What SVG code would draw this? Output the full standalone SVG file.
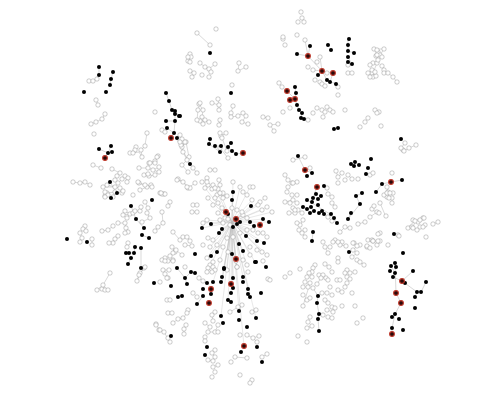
<svg xmlns="http://www.w3.org/2000/svg" xmlns:xlink="http://www.w3.org/1999/xlink" width="500" height="400" viewBox="0 0 500 400">
<style>
.e{fill:none;stroke:#aaa;stroke-width:0.45}
.s{fill:none;stroke:#bbb;stroke-width:0.35}
</style>
<defs>
<circle id="B" r="2" fill="#000"/>
<circle id="R" r="2.4" fill="#2a0a0a" stroke="#c0392b" stroke-width="1.1"/>
<circle id="H" r="2.2" fill="#fff" stroke="#999" stroke-width="0.5"/>
</defs>
<rect width="500" height="400" fill="#fff"/>
<g id="connectors">
<path class="e" d="M308 56L322 71M322 71L333 73M322 71L327 80M327 80L336 84M333 73L330 82M310 46L308 56M297 54L308 56M348 45L348 51M348 57L352 64M322 71L318 75M320 57L322 71M305 40L308 56M313 70L322 71M348 39L348 45M348 51L354 53M287 91L295 99M295 99L297 105L299 110L302 113L301 118M290 100L295 99M295 87L296 93L295 99M166 93L169 101L172 110L175 114L175 121L174 133L171 138M176 138L190 164M175 111L179 116M166 121L175 121M167 128L174 133M395 263L396 293L401 303L395 314L392 328L392 334M402 281L417 292M393 277L402 281M391 266L395 273M413 271L402 281M421 292L426 282M415 297L417 292M317 187L313 198M307 200L330 214M330 214L337 223M391 182L402 180M382 184L391 182M376 192L382 184M362 193L356 196L360 204M351 213L348 219L360 204M305 170L312 173M318 296L317 303L319 314L318 319L319 331M310 283L303 306M313 288L318 296M321 278L317 284M305 170L298 156M313 232L312 241M99 67L99 75M113 72L111 79L110 85M105 158L108 153L111 146M112 152L108 153M99 149L108 153M210 139L209 144L220 152M215 146L221 146M231 143L228 147L232 151L236 154L243 153M110 182L117 193M111 198L117 193M131 206L136 219L144 228M142 235L149 238M126 253L134 253L135 247M131 258L128 264M141 248L141 268M185 278L191 272L195 273M187 284L185 278M177 268L185 278M110 273L103 285M103 285L97 290M103 285L107 290M139 275L137 281M145 267L139 275M380 55L376 56M380 55L384 49M380 55L382 57M380 55L374 49M377 63L373 73M382 66L384 70M384 73L388 73L393 77L397 82M401 148L405 143M404 151L409 148L416 145M415 221L420 220L424 218M413 228L415 221M408 227L415 221M433 224L438 222M418 222L423 218M413 220L418 222M380 203L386 217M372 210L379 213M387 187L389 198M289 213L295 213M303 220L300 225M299 230L305 237M285 202L293 200M338 177L342 173M348 175L352 179M335 207L332 203M328 217L332 221M345 227L350 228M365 222L358 224M370 217L377 212M293 160L305 157M285 175L288 180M297 182L292 183M336 171L338 177M340 232L345 227M353 243L357 246L353 250M357 253L352 257M357 260L360 262L364 265M346 246L340 245M328 253L325 247M315 265L313 268M309 273L307 277M347 277L350 279M338 290L342 292M332 307L335 308M327 310L333 312M328 317L332 318M310 317L308 322M312 326L307 328M211 265L213 267L215 270M208 268L212 272M199 278L203 281M236 261L237 267M230 312L238 307L242 305M212 315L215 312M213 321L212 315M205 323L210 327M218 325L215 332M208 332L215 332M184 334L184 329L186 325M156 325L160 330M164 332L170 342M168 338L170 342M205 337L205 341M215 350L212 353L215 357M208 360L213 361M213 367L218 365M252 312L256 310M253 338L259 336M257 342L253 338M262 357L267 354M247 335L253 338M247 358L235 357M178 319L183 318M173 323L178 319M188 310L187 313L183 318M197 304L203 296M197 33L210 45M190 54L191 57L188 61M215 64L209 69L211 72M200 63L205 67L209 69M192 77L194 73L190 71M238 71L239 63M246 67L238 71M218 99L219 105L219 110M212 103L219 105M199 104L203 110L202 117M200 121L205 120L209 122M203 124L205 120M220 120L219 125M226 133L221 136M231 113L233 106M231 117L238 116L243 113M246 116L242 122L248 124M263 117L268 118M278 124L270 125L274 131M183 142L186 142L182 147M189 157L186 142M220 148L228 158M89 81L93 81L97 79M96 100L98 105M105 114L102 119L96 122L91 124M136 147L135 150L130 153L133 153M141 150L142 157M145 146L141 150M158 156L155 161L149 163M139 168L148 168L153 170M159 167L153 170M155 175L149 176L144 175M93 165L101 168M112 169L120 173L117 176M125 176L128 178M115 180L118 183L122 179M107 185L115 187M73 182L80 183L85 182L90 185M103 187L115 187L120 188M115 192L107 193L105 196M113 197L115 192M122 193L120 188M139 183L147 187L151 185M140 190L147 187M160 193L164 194M178 179L183 182L188 188L195 183M188 172L182 165L187 160L183 152L181 145L185 142L182 139L180 135M198 110L197 120M200 103L198 110M105 192L108 195L105 197M123 191L117 193M145 202L148 208M162 194L165 194M170 202L168 206M125 211L130 214L123 215M127 218L130 214M133 213L135 211L140 211L141 207M147 213L150 218M162 212L163 223L158 227L155 231M142 222L150 218M118 223L125 223L126 228L128 232L125 233M113 226L108 230L102 231M85 226L83 229L86 231M80 233L82 238L80 242M92 239L92 245M118 236L115 239L113 243L109 243M128 243L127 247M173 232L180 240M183 237L187 237L190 241M185 245L192 246M193 205L197 205M192 212L197 212M172 247L175 252L173 253L170 256L165 258L162 260M173 260L168 261M182 255L176 250M144 268L140 273L137 281M163 270L168 278M169 270L163 270M147 133L145 145M135 148L132 153L139 152L142 157M150 163L155 163L157 157M153 170L159 172M148 174L144 175M138 182L145 185L152 187M161 193L164 193M180 142L185 143L182 145M193 168L197 173M177 180L183 182L190 188L187 187M207 178L202 182M210 170L215 170M208 185L212 189M220 133L222 138L227 151M219 180L220 185L218 189L223 193M217 195L227 196M374 49L384 49"/>
<path class="s" d="M232 222L251 206M232 222L263 219M232 222L269 222M232 222L254 226M232 222L246 236M232 222L239 244M232 222L243 251M232 222L257 241M232 222L264 243M232 222L236 259M232 222L232 254M232 222L217 252M232 222L211 256M232 222L255 262M232 222L224 268M232 222L233 278M232 222L243 277M232 222L222 229M232 222L219 233M232 222L211 224M232 222L202 228M232 222L233 192M232 222L232 200M232 222L226 212M232 222L240 187M232 222L213 185M232 222L205 188M232 222L250 187M232 222L267 207M232 222L272 212M232 222L213 240M232 222L207 258M232 222L227 270M232 222L262 252M232 222L267 255M232 222L231 293M232 222L239 311M232 222L221 316M232 222L256 318M232 222L208 198M232 222L258 205M232 222L262 210M232 222L218 213M232 222L243 215M232 222L247 230M232 222L253 230M232 222L233 182M232 222L250 255M232 222L247 265M232 222L237 267M232 222L228 252M232 222L210 247M232 222L203 223M232 222L207 220M232 222L222 282M232 222L233 288M232 222L248 289M232 222L213 282M232 222L224 269M232 222L222 277M232 222L228 300M232 222L244 346M232 222L207 272M232 222L215 198M232 222L220 193M232 222L252 200M232 222L265 198"/>
</g>
<g id="nodes-hollow">
<use href="#H" x="301" y="12"/><use href="#H" x="302" y="18"/><use href="#H" x="298" y="22"/><use href="#H" x="304" y="22"/>
<use href="#H" x="197" y="33"/><use href="#H" x="216" y="29"/><use href="#H" x="210" y="45"/><use href="#H" x="190" y="54"/><use href="#H" x="188" y="61"/><use href="#H" x="191" y="57"/><use href="#H" x="215" y="64"/><use href="#H" x="200" y="63"/><use href="#H" x="205" y="67"/><use href="#H" x="209" y="69"/><use href="#H" x="211" y="72"/><use href="#H" x="202" y="75"/><use href="#H" x="209" y="77"/><use href="#H" x="192" y="77"/><use href="#H" x="190" y="71"/><use href="#H" x="194" y="73"/><use href="#H" x="239" y="63"/><use href="#H" x="238" y="71"/><use href="#H" x="246" y="67"/><use href="#H" x="232" y="85"/><use href="#H" x="283" y="39"/><use href="#H" x="279" y="83"/><use href="#H" x="282" y="87"/><use href="#H" x="218" y="99"/><use href="#H" x="212" y="103"/><use href="#H" x="219" y="105"/><use href="#H" x="219" y="110"/><use href="#H" x="199" y="104"/><use href="#H" x="203" y="110"/><use href="#H" x="202" y="117"/><use href="#H" x="200" y="121"/><use href="#H" x="205" y="120"/><use href="#H" x="209" y="122"/><use href="#H" x="203" y="124"/><use href="#H" x="220" y="120"/><use href="#H" x="219" y="125"/><use href="#H" x="226" y="133"/><use href="#H" x="221" y="136"/><use href="#H" x="231" y="113"/><use href="#H" x="233" y="106"/><use href="#H" x="231" y="117"/><use href="#H" x="238" y="116"/><use href="#H" x="243" y="113"/><use href="#H" x="246" y="116"/><use href="#H" x="242" y="122"/><use href="#H" x="248" y="124"/><use href="#H" x="263" y="117"/><use href="#H" x="268" y="118"/><use href="#H" x="278" y="124"/><use href="#H" x="270" y="125"/><use href="#H" x="274" y="131"/><use href="#H" x="183" y="142"/><use href="#H" x="186" y="142"/><use href="#H" x="182" y="147"/><use href="#H" x="189" y="157"/><use href="#H" x="220" y="148"/><use href="#H" x="228" y="158"/>
<use href="#H" x="89" y="81"/><use href="#H" x="93" y="81"/><use href="#H" x="97" y="79"/><use href="#H" x="96" y="100"/><use href="#H" x="98" y="105"/><use href="#H" x="105" y="114"/><use href="#H" x="102" y="119"/><use href="#H" x="96" y="122"/><use href="#H" x="91" y="124"/><use href="#H" x="94" y="134"/><use href="#H" x="155" y="112"/><use href="#H" x="147" y="133"/><use href="#H" x="162" y="130"/><use href="#H" x="165" y="132"/><use href="#H" x="136" y="147"/><use href="#H" x="135" y="150"/><use href="#H" x="130" y="153"/><use href="#H" x="133" y="153"/><use href="#H" x="141" y="150"/><use href="#H" x="142" y="157"/><use href="#H" x="145" y="146"/><use href="#H" x="158" y="156"/><use href="#H" x="155" y="161"/><use href="#H" x="149" y="163"/><use href="#H" x="139" y="168"/><use href="#H" x="148" y="168"/><use href="#H" x="153" y="170"/><use href="#H" x="159" y="167"/><use href="#H" x="155" y="175"/><use href="#H" x="144" y="175"/><use href="#H" x="149" y="176"/><use href="#H" x="93" y="165"/><use href="#H" x="101" y="168"/><use href="#H" x="112" y="169"/><use href="#H" x="120" y="173"/><use href="#H" x="117" y="176"/><use href="#H" x="125" y="176"/><use href="#H" x="128" y="178"/><use href="#H" x="115" y="180"/><use href="#H" x="118" y="183"/><use href="#H" x="122" y="179"/><use href="#H" x="107" y="185"/><use href="#H" x="127" y="182"/><use href="#H" x="73" y="182"/><use href="#H" x="80" y="183"/><use href="#H" x="85" y="182"/><use href="#H" x="90" y="185"/><use href="#H" x="103" y="187"/><use href="#H" x="115" y="187"/><use href="#H" x="120" y="188"/><use href="#H" x="115" y="192"/><use href="#H" x="107" y="193"/><use href="#H" x="105" y="196"/><use href="#H" x="113" y="197"/><use href="#H" x="122" y="193"/><use href="#H" x="139" y="183"/><use href="#H" x="147" y="187"/><use href="#H" x="151" y="185"/><use href="#H" x="140" y="190"/><use href="#H" x="160" y="193"/><use href="#H" x="164" y="194"/><use href="#H" x="178" y="179"/><use href="#H" x="183" y="182"/><use href="#H" x="188" y="188"/><use href="#H" x="195" y="183"/><use href="#H" x="188" y="172"/><use href="#H" x="182" y="165"/><use href="#H" x="187" y="160"/><use href="#H" x="183" y="152"/><use href="#H" x="181" y="145"/><use href="#H" x="185" y="142"/><use href="#H" x="182" y="139"/><use href="#H" x="180" y="135"/><use href="#H" x="198" y="110"/><use href="#H" x="197" y="120"/><use href="#H" x="200" y="103"/><use href="#H" x="188" y="57"/><use href="#H" x="190" y="62"/>
<use href="#H" x="105" y="192"/><use href="#H" x="108" y="195"/><use href="#H" x="105" y="197"/><use href="#H" x="123" y="191"/><use href="#H" x="145" y="202"/><use href="#H" x="148" y="208"/><use href="#H" x="162" y="194"/><use href="#H" x="165" y="194"/><use href="#H" x="170" y="202"/><use href="#H" x="168" y="206"/><use href="#H" x="125" y="211"/><use href="#H" x="130" y="214"/><use href="#H" x="123" y="215"/><use href="#H" x="127" y="218"/><use href="#H" x="133" y="213"/><use href="#H" x="135" y="211"/><use href="#H" x="140" y="211"/><use href="#H" x="141" y="207"/><use href="#H" x="147" y="213"/><use href="#H" x="150" y="218"/><use href="#H" x="162" y="212"/><use href="#H" x="163" y="223"/><use href="#H" x="158" y="227"/><use href="#H" x="155" y="231"/><use href="#H" x="142" y="222"/><use href="#H" x="118" y="223"/><use href="#H" x="125" y="223"/><use href="#H" x="126" y="228"/><use href="#H" x="128" y="232"/><use href="#H" x="125" y="233"/><use href="#H" x="113" y="226"/><use href="#H" x="108" y="230"/><use href="#H" x="102" y="231"/><use href="#H" x="85" y="226"/><use href="#H" x="83" y="229"/><use href="#H" x="86" y="231"/><use href="#H" x="80" y="233"/><use href="#H" x="82" y="238"/><use href="#H" x="80" y="242"/><use href="#H" x="92" y="239"/><use href="#H" x="92" y="245"/><use href="#H" x="118" y="236"/><use href="#H" x="115" y="239"/><use href="#H" x="113" y="243"/><use href="#H" x="109" y="243"/><use href="#H" x="128" y="243"/><use href="#H" x="127" y="247"/><use href="#H" x="173" y="232"/><use href="#H" x="180" y="240"/><use href="#H" x="183" y="237"/><use href="#H" x="187" y="237"/><use href="#H" x="190" y="241"/><use href="#H" x="185" y="245"/><use href="#H" x="192" y="246"/><use href="#H" x="193" y="205"/><use href="#H" x="197" y="205"/><use href="#H" x="192" y="212"/><use href="#H" x="197" y="212"/><use href="#H" x="172" y="247"/><use href="#H" x="175" y="252"/><use href="#H" x="173" y="253"/><use href="#H" x="170" y="256"/><use href="#H" x="165" y="258"/><use href="#H" x="162" y="260"/><use href="#H" x="173" y="260"/><use href="#H" x="168" y="261"/><use href="#H" x="182" y="255"/><use href="#H" x="176" y="250"/><use href="#H" x="144" y="268"/><use href="#H" x="140" y="273"/><use href="#H" x="137" y="281"/><use href="#H" x="163" y="270"/><use href="#H" x="168" y="278"/><use href="#H" x="169" y="270"/><use href="#H" x="110" y="273"/><use href="#H" x="102" y="289"/><use href="#H" x="97" y="290"/><use href="#H" x="105" y="290"/><use href="#H" x="108" y="290"/><use href="#H" x="103" y="285"/><use href="#H" x="160" y="282"/><use href="#H" x="167" y="300"/><use href="#H" x="185" y="267"/><use href="#H" x="193" y="293"/><use href="#H" x="197" y="297"/><use href="#H" x="145" y="267"/><use href="#H" x="139" y="275"/><use href="#H" x="156" y="324"/><use href="#H" x="159" y="330"/>
<use href="#H" x="150" y="163"/><use href="#H" x="155" y="163"/><use href="#H" x="157" y="157"/><use href="#H" x="159" y="172"/><use href="#H" x="148" y="174"/><use href="#H" x="138" y="182"/><use href="#H" x="145" y="185"/><use href="#H" x="152" y="187"/><use href="#H" x="133" y="195"/><use href="#H" x="161" y="193"/><use href="#H" x="180" y="142"/><use href="#H" x="193" y="168"/><use href="#H" x="197" y="173"/><use href="#H" x="177" y="180"/><use href="#H" x="190" y="188"/><use href="#H" x="187" y="187"/><use href="#H" x="207" y="178"/><use href="#H" x="202" y="182"/><use href="#H" x="210" y="170"/><use href="#H" x="215" y="170"/><use href="#H" x="208" y="185"/><use href="#H" x="212" y="189"/><use href="#H" x="220" y="133"/><use href="#H" x="222" y="138"/><use href="#H" x="227" y="151"/><use href="#H" x="219" y="180"/><use href="#H" x="220" y="185"/><use href="#H" x="218" y="189"/><use href="#H" x="223" y="193"/><use href="#H" x="217" y="195"/><use href="#H" x="227" y="196"/>
<use href="#H" x="293" y="160"/><use href="#H" x="305" y="157"/><use href="#H" x="310" y="168"/><use href="#H" x="285" y="175"/><use href="#H" x="288" y="180"/><use href="#H" x="297" y="182"/><use href="#H" x="292" y="183"/><use href="#H" x="336" y="171"/><use href="#H" x="342" y="173"/><use href="#H" x="338" y="177"/><use href="#H" x="348" y="175"/><use href="#H" x="352" y="179"/><use href="#H" x="358" y="179"/><use href="#H" x="345" y="180"/><use href="#H" x="338" y="183"/><use href="#H" x="370" y="175"/><use href="#H" x="327" y="188"/><use href="#H" x="328" y="194"/><use href="#H" x="332" y="197"/><use href="#H" x="287" y="192"/><use href="#H" x="292" y="195"/><use href="#H" x="293" y="200"/><use href="#H" x="297" y="203"/><use href="#H" x="293" y="208"/><use href="#H" x="298" y="210"/><use href="#H" x="285" y="202"/><use href="#H" x="295" y="213"/><use href="#H" x="289" y="213"/><use href="#H" x="302" y="213"/><use href="#H" x="303" y="220"/><use href="#H" x="300" y="225"/><use href="#H" x="305" y="230"/><use href="#H" x="302" y="233"/><use href="#H" x="299" y="230"/><use href="#H" x="305" y="237"/><use href="#H" x="328" y="217"/><use href="#H" x="345" y="227"/><use href="#H" x="340" y="232"/><use href="#H" x="332" y="221"/><use href="#H" x="332" y="203"/><use href="#H" x="335" y="207"/><use href="#H" x="388" y="192"/><use href="#H" x="393" y="193"/><use href="#H" x="387" y="197"/><use href="#H" x="392" y="198"/><use href="#H" x="392" y="203"/><use href="#H" x="380" y="203"/><use href="#H" x="372" y="209"/><use href="#H" x="377" y="212"/><use href="#H" x="386" y="216"/><use href="#H" x="370" y="217"/><use href="#H" x="365" y="222"/><use href="#H" x="358" y="224"/><use href="#H" x="350" y="228"/><use href="#H" x="380" y="233"/><use href="#H" x="368" y="240"/><use href="#H" x="372" y="240"/><use href="#H" x="392" y="173"/><use href="#H" x="403" y="150"/><use href="#H" x="323" y="242"/><use href="#H" x="330" y="247"/><use href="#H" x="335" y="240"/><use href="#H" x="342" y="242"/><use href="#H" x="354" y="243"/><use href="#H" x="360" y="245"/><use href="#H" x="367" y="247"/><use href="#H" x="377" y="245"/><use href="#H" x="388" y="245"/><use href="#H" x="408" y="228"/><use href="#H" x="413" y="220"/><use href="#H" x="418" y="222"/><use href="#H" x="423" y="218"/><use href="#H" x="420" y="227"/><use href="#H" x="425" y="225"/><use href="#H" x="412" y="227"/><use href="#H" x="417" y="230"/><use href="#H" x="426" y="237"/><use href="#H" x="398" y="235"/>
<use href="#H" x="374" y="49"/><use href="#H" x="384" y="49"/><use href="#H" x="378" y="52"/><use href="#H" x="376" y="56"/><use href="#H" x="380" y="55"/><use href="#H" x="382" y="57"/><use href="#H" x="373" y="63"/><use href="#H" x="377" y="63"/><use href="#H" x="382" y="66"/><use href="#H" x="384" y="70"/><use href="#H" x="372" y="73"/><use href="#H" x="373" y="77"/><use href="#H" x="376" y="76"/><use href="#H" x="384" y="73"/><use href="#H" x="388" y="73"/><use href="#H" x="393" y="77"/><use href="#H" x="397" y="82"/><use href="#H" x="379" y="112"/><use href="#H" x="381" y="126"/><use href="#H" x="405" y="143"/><use href="#H" x="401" y="148"/><use href="#H" x="404" y="151"/><use href="#H" x="409" y="148"/><use href="#H" x="416" y="145"/><use href="#H" x="373" y="173"/><use href="#H" x="387" y="187"/><use href="#H" x="384" y="195"/><use href="#H" x="387" y="193"/><use href="#H" x="390" y="193"/><use href="#H" x="389" y="198"/><use href="#H" x="374" y="206"/><use href="#H" x="379" y="213"/><use href="#H" x="415" y="221"/><use href="#H" x="420" y="220"/><use href="#H" x="424" y="218"/><use href="#H" x="438" y="222"/><use href="#H" x="433" y="224"/><use href="#H" x="413" y="228"/><use href="#H" x="423" y="227"/><use href="#H" x="378" y="234"/><use href="#H" x="399" y="236"/><use href="#H" x="373" y="241"/><use href="#H" x="380" y="241"/>
<use href="#H" x="325" y="247"/><use href="#H" x="328" y="253"/><use href="#H" x="333" y="242"/><use href="#H" x="340" y="245"/><use href="#H" x="338" y="242"/><use href="#H" x="346" y="246"/><use href="#H" x="353" y="243"/><use href="#H" x="357" y="246"/><use href="#H" x="353" y="250"/><use href="#H" x="357" y="253"/><use href="#H" x="352" y="257"/><use href="#H" x="357" y="260"/><use href="#H" x="360" y="262"/><use href="#H" x="364" y="265"/><use href="#H" x="367" y="246"/><use href="#H" x="370" y="248"/><use href="#H" x="373" y="241"/><use href="#H" x="378" y="241"/><use href="#H" x="338" y="258"/><use href="#H" x="338" y="262"/><use href="#H" x="315" y="265"/><use href="#H" x="313" y="268"/><use href="#H" x="325" y="264"/><use href="#H" x="329" y="267"/><use href="#H" x="300" y="269"/><use href="#H" x="312" y="272"/><use href="#H" x="309" y="273"/><use href="#H" x="307" y="277"/><use href="#H" x="312" y="277"/><use href="#H" x="332" y="272"/><use href="#H" x="319" y="275"/><use href="#H" x="323" y="275"/><use href="#H" x="326" y="278"/><use href="#H" x="321" y="278"/><use href="#H" x="347" y="270"/><use href="#H" x="345" y="273"/><use href="#H" x="350" y="273"/><use href="#H" x="355" y="272"/><use href="#H" x="347" y="277"/><use href="#H" x="350" y="279"/><use href="#H" x="328" y="280"/><use href="#H" x="305" y="282"/><use href="#H" x="310" y="283"/><use href="#H" x="317" y="284"/><use href="#H" x="303" y="287"/><use href="#H" x="308" y="287"/><use href="#H" x="313" y="288"/><use href="#H" x="337" y="280"/><use href="#H" x="340" y="280"/><use href="#H" x="347" y="283"/><use href="#H" x="330" y="287"/><use href="#H" x="345" y="287"/><use href="#H" x="338" y="290"/><use href="#H" x="342" y="292"/><use href="#H" x="352" y="293"/><use href="#H" x="322" y="293"/><use href="#H" x="327" y="293"/><use href="#H" x="332" y="295"/><use href="#H" x="303" y="295"/><use href="#H" x="307" y="300"/><use href="#H" x="303" y="306"/><use href="#H" x="310" y="298"/><use href="#H" x="325" y="300"/><use href="#H" x="328" y="303"/><use href="#H" x="332" y="307"/><use href="#H" x="335" y="308"/><use href="#H" x="327" y="310"/><use href="#H" x="333" y="312"/><use href="#H" x="323" y="315"/><use href="#H" x="328" y="317"/><use href="#H" x="332" y="318"/><use href="#H" x="342" y="306"/><use href="#H" x="355" y="306"/><use href="#H" x="310" y="317"/><use href="#H" x="308" y="322"/><use href="#H" x="312" y="326"/><use href="#H" x="307" y="328"/><use href="#H" x="363" y="318"/><use href="#H" x="357" y="323"/><use href="#H" x="298" y="336"/><use href="#H" x="307" y="342"/>
<use href="#H" x="165" y="261"/><use href="#H" x="173" y="261"/><use href="#H" x="210" y="265"/><use href="#H" x="213" y="267"/><use href="#H" x="208" y="268"/><use href="#H" x="215" y="270"/><use href="#H" x="212" y="272"/><use href="#H" x="165" y="274"/><use href="#H" x="167" y="278"/><use href="#H" x="203" y="281"/><use href="#H" x="199" y="278"/><use href="#H" x="236" y="261"/><use href="#H" x="237" y="267"/><use href="#H" x="263" y="261"/><use href="#H" x="268" y="279"/><use href="#H" x="248" y="272"/><use href="#H" x="170" y="300"/><use href="#H" x="242" y="305"/><use href="#H" x="238" y="307"/><use href="#H" x="230" y="312"/><use href="#H" x="168" y="313"/><use href="#H" x="172" y="313"/><use href="#H" x="188" y="310"/><use href="#H" x="187" y="313"/><use href="#H" x="183" y="318"/><use href="#H" x="178" y="319"/><use href="#H" x="173" y="323"/><use href="#H" x="212" y="315"/><use href="#H" x="215" y="312"/><use href="#H" x="213" y="321"/><use href="#H" x="205" y="323"/><use href="#H" x="210" y="327"/><use href="#H" x="218" y="325"/><use href="#H" x="215" y="332"/><use href="#H" x="218" y="332"/><use href="#H" x="208" y="332"/><use href="#H" x="184" y="334"/><use href="#H" x="184" y="329"/><use href="#H" x="186" y="325"/><use href="#H" x="156" y="325"/><use href="#H" x="160" y="330"/><use href="#H" x="164" y="332"/><use href="#H" x="170" y="342"/><use href="#H" x="168" y="338"/><use href="#H" x="205" y="337"/><use href="#H" x="205" y="341"/><use href="#H" x="215" y="350"/><use href="#H" x="212" y="353"/><use href="#H" x="215" y="357"/><use href="#H" x="208" y="360"/><use href="#H" x="213" y="361"/><use href="#H" x="213" y="367"/><use href="#H" x="218" y="365"/><use href="#H" x="252" y="312"/><use href="#H" x="256" y="310"/><use href="#H" x="253" y="338"/><use href="#H" x="259" y="336"/><use href="#H" x="257" y="342"/><use href="#H" x="262" y="357"/><use href="#H" x="267" y="354"/><use href="#H" x="247" y="335"/><use href="#H" x="247" y="358"/><use href="#H" x="235" y="357"/><use href="#H" x="231" y="362"/><use href="#H" x="270" y="280"/><use href="#H" x="240" y="335"/><use href="#H" x="240" y="375"/><use href="#H" x="252" y="380"/><use href="#H" x="215" y="372"/><use href="#H" x="212" y="377"/><use href="#H" x="250" y="383"/>
<use href="#H" x="207" y="182"/><use href="#H" x="213" y="185"/><use href="#H" x="205" y="188"/><use href="#H" x="215" y="188"/><use href="#H" x="233" y="182"/><use href="#H" x="240" y="187"/><use href="#H" x="250" y="187"/><use href="#H" x="253" y="187"/><use href="#H" x="243" y="192"/><use href="#H" x="247" y="195"/><use href="#H" x="252" y="200"/><use href="#H" x="260" y="202"/><use href="#H" x="262" y="210"/><use href="#H" x="258" y="205"/><use href="#H" x="265" y="198"/><use href="#H" x="267" y="207"/><use href="#H" x="272" y="212"/><use href="#H" x="208" y="198"/><use href="#H" x="215" y="198"/><use href="#H" x="220" y="193"/><use href="#H" x="223" y="198"/><use href="#H" x="218" y="203"/><use href="#H" x="213" y="205"/><use href="#H" x="222" y="208"/><use href="#H" x="218" y="213"/><use href="#H" x="225" y="218"/><use href="#H" x="220" y="220"/><use href="#H" x="228" y="219"/><use href="#H" x="223" y="223"/><use href="#H" x="230" y="225"/><use href="#H" x="243" y="215"/><use href="#H" x="247" y="218"/><use href="#H" x="242" y="212"/><use href="#H" x="237" y="210"/><use href="#H" x="232" y="208"/><use href="#H" x="207" y="220"/><use href="#H" x="203" y="223"/><use href="#H" x="247" y="230"/><use href="#H" x="253" y="230"/><use href="#H" x="258" y="233"/><use href="#H" x="263" y="233"/><use href="#H" x="267" y="237"/><use href="#H" x="240" y="233"/><use href="#H" x="233" y="237"/><use href="#H" x="227" y="238"/><use href="#H" x="213" y="240"/><use href="#H" x="208" y="238"/><use href="#H" x="217" y="245"/><use href="#H" x="210" y="247"/><use href="#H" x="203" y="245"/><use href="#H" x="223" y="247"/><use href="#H" x="228" y="252"/><use href="#H" x="250" y="247"/><use href="#H" x="257" y="250"/><use href="#H" x="262" y="252"/><use href="#H" x="267" y="255"/><use href="#H" x="250" y="255"/><use href="#H" x="207" y="258"/><use href="#H" x="213" y="262"/><use href="#H" x="220" y="260"/><use href="#H" x="243" y="260"/><use href="#H" x="247" y="265"/><use href="#H" x="237" y="267"/><use href="#H" x="227" y="270"/><use href="#H" x="207" y="272"/><use href="#H" x="288" y="187"/><use href="#H" x="293" y="183"/><use href="#H" x="297" y="195"/><use href="#H" x="290" y="203"/><use href="#H" x="295" y="210"/><use href="#H" x="297" y="223"/><use href="#H" x="290" y="273"/><use href="#H" x="285" y="277"/>
<use href="#H" x="283" y="37"/><use href="#H" x="297" y="35"/><use href="#H" x="305" y="40"/><use href="#H" x="285" y="45"/><use href="#H" x="308" y="67"/><use href="#H" x="317" y="62"/><use href="#H" x="313" y="70"/><use href="#H" x="320" y="57"/><use href="#H" x="327" y="73"/><use href="#H" x="315" y="80"/><use href="#H" x="320" y="82"/><use href="#H" x="322" y="84"/><use href="#H" x="325" y="86"/><use href="#H" x="338" y="87"/><use href="#H" x="348" y="73"/><use href="#H" x="352" y="73"/><use href="#H" x="370" y="65"/><use href="#H" x="372" y="70"/><use href="#H" x="375" y="72"/><use href="#H" x="368" y="73"/><use href="#H" x="370" y="77"/><use href="#H" x="377" y="50"/><use href="#H" x="377" y="55"/><use href="#H" x="378" y="60"/><use href="#H" x="317" y="108"/><use href="#H" x="322" y="110"/><use href="#H" x="327" y="107"/><use href="#H" x="330" y="110"/><use href="#H" x="325" y="112"/><use href="#H" x="313" y="113"/><use href="#H" x="333" y="112"/><use href="#H" x="345" y="110"/><use href="#H" x="323" y="117"/><use href="#H" x="283" y="112"/><use href="#H" x="290" y="108"/><use href="#H" x="308" y="120"/><use href="#H" x="338" y="95"/><use href="#H" x="348" y="65"/><use href="#H" x="375" y="110"/><use href="#H" x="377" y="113"/><use href="#H" x="360" y="127"/><use href="#H" x="365" y="122"/><use href="#H" x="368" y="118"/>
</g>
<g id="nodes-black">
<use href="#B" x="99" y="67"/><use href="#B" x="99" y="75"/><use href="#B" x="113" y="72"/><use href="#B" x="111" y="79"/><use href="#B" x="110" y="85"/><use href="#B" x="84" y="92"/><use href="#B" x="106" y="92"/>
<use href="#B" x="166" y="93"/><use href="#B" x="169" y="101"/><use href="#B" x="172" y="110"/><use href="#B" x="175" y="111"/><use href="#B" x="175" y="114"/><use href="#B" x="179" y="116"/><use href="#B" x="166" y="121"/><use href="#B" x="175" y="121"/><use href="#B" x="167" y="128"/><use href="#B" x="174" y="133"/><use href="#B" x="177" y="138"/><use href="#B" x="190" y="164"/>
<use href="#B" x="111" y="146"/><use href="#B" x="112" y="152"/><use href="#B" x="108" y="153"/><use href="#B" x="99" y="149"/><use href="#B" x="110" y="182"/>
<use href="#B" x="117" y="193"/><use href="#B" x="111" y="198"/><use href="#B" x="152" y="200"/><use href="#B" x="131" y="206"/><use href="#B" x="136" y="219"/><use href="#B" x="144" y="228"/><use href="#B" x="142" y="235"/><use href="#B" x="149" y="238"/><use href="#B" x="67" y="239"/><use href="#B" x="87" y="242"/><use href="#B" x="135" y="247"/><use href="#B" x="141" y="248"/><use href="#B" x="126" y="253"/><use href="#B" x="129" y="253"/><use href="#B" x="134" y="253"/><use href="#B" x="131" y="258"/><use href="#B" x="128" y="264"/><use href="#B" x="141" y="268"/><use href="#B" x="177" y="268"/><use href="#B" x="191" y="272"/><use href="#B" x="195" y="273"/><use href="#B" x="185" y="278"/><use href="#B" x="187" y="284"/><use href="#B" x="154" y="283"/><use href="#B" x="171" y="286"/><use href="#B" x="195" y="254"/><use href="#B" x="178" y="297"/><use href="#B" x="182" y="296"/>
<use href="#B" x="210" y="53"/><use href="#B" x="231" y="93"/><use href="#B" x="180" y="116"/><use href="#B" x="210" y="139"/><use href="#B" x="209" y="144"/><use href="#B" x="215" y="146"/><use href="#B" x="221" y="146"/><use href="#B" x="220" y="152"/><use href="#B" x="231" y="143"/><use href="#B" x="228" y="147"/><use href="#B" x="232" y="151"/><use href="#B" x="236" y="154"/>
<use href="#B" x="310" y="46"/><use href="#B" x="297" y="54"/><use href="#B" x="328" y="45"/><use href="#B" x="331" y="50"/><use href="#B" x="349" y="39"/><use href="#B" x="348" y="45"/><use href="#B" x="348" y="51"/><use href="#B" x="354" y="53"/><use href="#B" x="348" y="57"/><use href="#B" x="348" y="62"/><use href="#B" x="352" y="64"/><use href="#B" x="318" y="75"/><use href="#B" x="327" y="80"/><use href="#B" x="330" y="82"/><use href="#B" x="336" y="84"/><use href="#B" x="295" y="87"/><use href="#B" x="296" y="93"/><use href="#B" x="297" y="105"/><use href="#B" x="299" y="110"/><use href="#B" x="302" y="113"/><use href="#B" x="301" y="118"/><use href="#B" x="304" y="119"/><use href="#B" x="334" y="129"/><use href="#B" x="338" y="128"/>
<use href="#B" x="298" y="156"/><use href="#B" x="307" y="176"/><use href="#B" x="312" y="173"/><use href="#B" x="351" y="164"/><use href="#B" x="354" y="166"/><use href="#B" x="355" y="162"/><use href="#B" x="359" y="165"/><use href="#B" x="371" y="159"/><use href="#B" x="368" y="168"/><use href="#B" x="366" y="174"/><use href="#B" x="382" y="184"/><use href="#B" x="402" y="180"/><use href="#B" x="376" y="192"/><use href="#B" x="362" y="193"/><use href="#B" x="356" y="196"/><use href="#B" x="360" y="204"/><use href="#B" x="351" y="213"/><use href="#B" x="348" y="219"/><use href="#B" x="324" y="186"/><use href="#B" x="316" y="194"/><use href="#B" x="321" y="196"/><use href="#B" x="313" y="198"/><use href="#B" x="318" y="199"/><use href="#B" x="307" y="200"/><use href="#B" x="312" y="202"/><use href="#B" x="303" y="207"/><use href="#B" x="307" y="209"/><use href="#B" x="311" y="207"/><use href="#B" x="318" y="205"/><use href="#B" x="322" y="211"/><use href="#B" x="324" y="214"/><use href="#B" x="319" y="213"/><use href="#B" x="310" y="213"/><use href="#B" x="314" y="211"/><use href="#B" x="331" y="214"/><use href="#B" x="334" y="218"/><use href="#B" x="337" y="223"/><use href="#B" x="313" y="232"/><use href="#B" x="312" y="241"/><use href="#B" x="394" y="234"/><use href="#B" x="401" y="139"/>
<use href="#B" x="233" y="192"/><use href="#B" x="232" y="200"/><use href="#B" x="228" y="214"/><use href="#B" x="240" y="222"/><use href="#B" x="237" y="224"/><use href="#B" x="233" y="227"/><use href="#B" x="250" y="222"/><use href="#B" x="254" y="226"/><use href="#B" x="263" y="219"/><use href="#B" x="269" y="222"/><use href="#B" x="251" y="206"/><use href="#B" x="211" y="224"/><use href="#B" x="202" y="228"/><use href="#B" x="222" y="229"/><use href="#B" x="219" y="233"/><use href="#B" x="246" y="236"/><use href="#B" x="239" y="244"/><use href="#B" x="243" y="251"/><use href="#B" x="257" y="241"/><use href="#B" x="264" y="243"/><use href="#B" x="232" y="254"/><use href="#B" x="217" y="252"/><use href="#B" x="211" y="256"/><use href="#B" x="255" y="262"/><use href="#B" x="266" y="267"/><use href="#B" x="224" y="268"/><use href="#B" x="222" y="277"/><use href="#B" x="233" y="278"/><use href="#B" x="243" y="277"/>
<use href="#B" x="203" y="289"/><use href="#B" x="207" y="283"/><use href="#B" x="213" y="282"/><use href="#B" x="224" y="269"/><use href="#B" x="221" y="282"/><use href="#B" x="233" y="288"/><use href="#B" x="231" y="293"/><use href="#B" x="228" y="300"/><use href="#B" x="231" y="302"/><use href="#B" x="211" y="294"/><use href="#B" x="203" y="296"/><use href="#B" x="197" y="304"/><use href="#B" x="243" y="282"/><use href="#B" x="248" y="289"/><use href="#B" x="248" y="294"/><use href="#B" x="250" y="297"/><use href="#B" x="261" y="293"/><use href="#B" x="256" y="262"/><use href="#B" x="239" y="311"/><use href="#B" x="239" y="320"/><use href="#B" x="256" y="318"/><use href="#B" x="247" y="327"/><use href="#B" x="241" y="352"/><use href="#B" x="257" y="347"/><use href="#B" x="262" y="362"/><use href="#B" x="221" y="316"/><use href="#B" x="223" y="323"/><use href="#B" x="171" y="336"/><use href="#B" x="207" y="347"/><use href="#B" x="205" y="355"/>
<use href="#B" x="403" y="253"/><use href="#B" x="395" y="263"/><use href="#B" x="391" y="266"/><use href="#B" x="396" y="267"/><use href="#B" x="390" y="271"/><use href="#B" x="395" y="273"/><use href="#B" x="393" y="277"/><use href="#B" x="405" y="283"/><use href="#B" x="413" y="271"/><use href="#B" x="426" y="282"/><use href="#B" x="417" y="292"/><use href="#B" x="421" y="292"/><use href="#B" x="415" y="297"/><use href="#B" x="415" y="308"/><use href="#B" x="395" y="314"/><use href="#B" x="392" y="317"/><use href="#B" x="399" y="319"/><use href="#B" x="392" y="328"/><use href="#B" x="403" y="330"/>
<use href="#B" x="349" y="252"/><use href="#B" x="318" y="296"/><use href="#B" x="317" y="303"/><use href="#B" x="319" y="314"/><use href="#B" x="318" y="319"/><use href="#B" x="319" y="331"/>
</g>
<g id="nodes-red">
<use href="#R" x="171" y="138"/><use href="#R" x="105" y="158"/><use href="#R" x="243" y="153"/><use href="#R" x="308" y="56"/><use href="#R" x="322" y="71"/><use href="#R" x="333" y="73"/><use href="#R" x="287" y="91"/><use href="#R" x="295" y="99"/><use href="#R" x="290" y="100"/><use href="#R" x="305" y="170"/><use href="#R" x="391" y="182"/><use href="#R" x="317" y="187"/><use href="#R" x="226" y="212"/><use href="#R" x="236" y="219"/><use href="#R" x="260" y="225"/><use href="#R" x="236" y="259"/><use href="#R" x="211" y="289"/><use href="#R" x="231" y="284"/><use href="#R" x="209" y="303"/><use href="#R" x="244" y="346"/><use href="#R" x="402" y="281"/><use href="#R" x="396" y="293"/><use href="#R" x="401" y="303"/><use href="#R" x="392" y="334"/>
</g>
</svg>
